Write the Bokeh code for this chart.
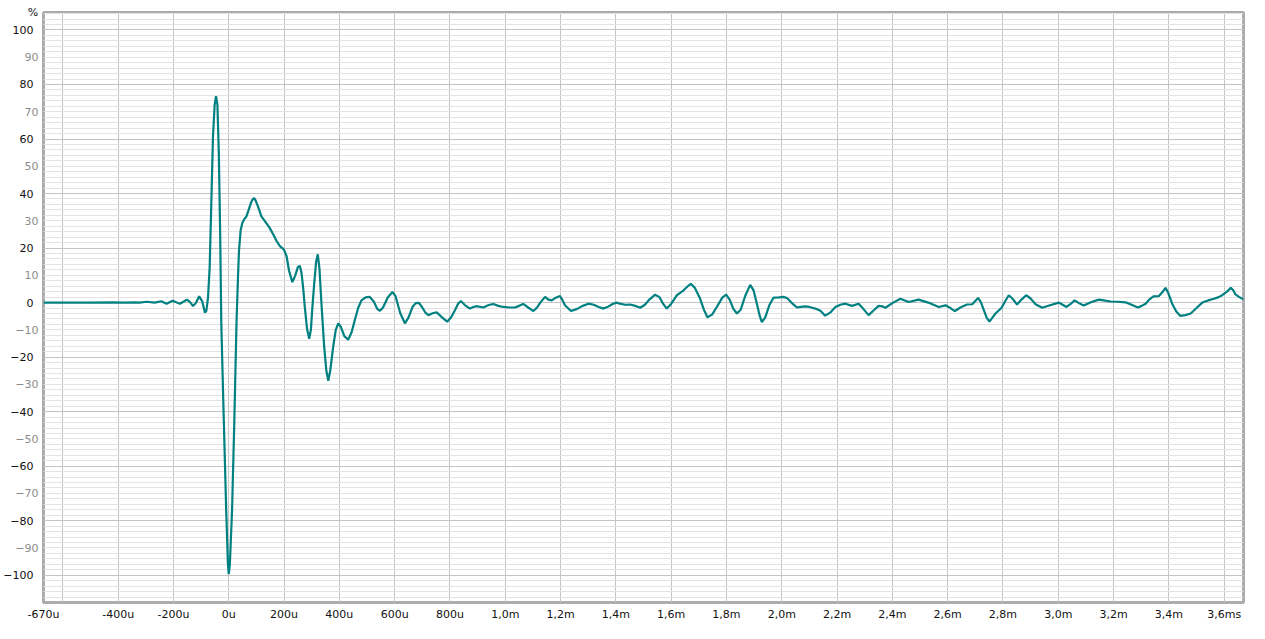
from bokeh.plotting import figure
from bokeh.models import FixedTicker, LinearAxis, Range1d
from bokeh.embed import file_html
from bokeh.resources import INLINE

# ---- data (time in microseconds, amplitude in %) ----
time_us = [
    -670, -600, -500, -420, -380, -340, -322, -297, -268, -244, -225, -203, -190, -177, -164, -151,
    -140, -129, -118, -107, -96, -86, -81, -75, -69, -63, -57, -51, -46, -41, -36, -31,
    -27, -18, -9, -3, 0, 4, 12, 20, 28, 33, 37, 43, 49, 56, 64, 72,
    80, 86, 92, 97, 106, 118, 130, 148, 161, 173, 185, 199, 209, 218, 230, 240,
    250, 257, 263, 269, 275, 283, 291, 297, 303, 309, 316, 322, 328, 336, 345, 353,
    360, 367, 378, 387, 396, 405, 418, 432, 444, 456, 468, 480, 495, 510, 525, 537,
    547, 558, 575, 592, 603, 620, 637, 650, 665, 676, 688, 700, 712, 722, 737, 752,
    770, 790, 805, 818, 830, 840, 855, 872, 885, 897, 910, 921, 940, 957, 975, 993,
    1015, 1035, 1050, 1065, 1083, 1102, 1115, 1126, 1144, 1156, 1168, 1183, 1198, 1207, 1216, 1238,
    1260, 1280, 1301, 1320, 1338, 1355, 1372, 1390, 1403, 1415, 1433, 1452, 1470, 1488, 1505, 1520,
    1542, 1558, 1570, 1584, 1600, 1621, 1645, 1660, 1671, 1685, 1705, 1718, 1731, 1748, 1765, 1785,
    1799, 1812, 1825, 1838, 1852, 1868, 1886, 1898, 1910, 1920, 1928, 1940, 1955, 1970, 1990, 2007,
    2020, 2040, 2055, 2070, 2085, 2100, 2121, 2140, 2157, 2175, 2194, 2212, 2230, 2254, 2278, 2295,
    2314, 2332, 2350, 2365, 2375, 2400, 2429, 2459, 2495, 2530, 2568, 2592, 2610, 2626, 2648, 2670,
    2689, 2700, 2710, 2720, 2731, 2741, 2751, 2762, 2773, 2795, 2808, 2821, 2836, 2851, 2868, 2884,
    2900, 2918, 2942, 2970, 3002, 3016, 3030, 3045, 3059, 3075, 3092, 3120, 3147, 3170, 3189, 3215,
    3243, 3265, 3288, 3300, 3316, 3330, 3344, 3364, 3378, 3388, 3398, 3412, 3427, 3442, 3460, 3479,
    3500, 3521, 3542, 3563, 3580, 3593, 3610, 3624, 3633, 3641, 3655, 3670,
]
amplitude_pct = [
    0.0, 0.0, 0.0, 0.1, 0.0, 0.1, 0.0, 0.3, 0.0, 0.5, -0.4, 0.7, 0.1, -0.4, 0.3, 1.1,
    0.2, -1.3, 0.0, 2.3, 0.5, -3.7, -3.0, 1.8, 12.9, 37.0, 61.0, 72.6, 75.7, 72.6, 55.0, 25.0,
    -7.6, -43.0, -77.0, -96.0, -99.6, -96.0, -76.0, -44.0, -7.6, 8.0, 19.0, 26.5, 29.2, 30.6, 31.6, 34.0,
    36.5, 37.8, 38.3, 37.5, 35.2, 31.6, 30.0, 27.4, 25.0, 22.6, 20.7, 19.5, 17.1, 11.7, 7.5, 9.8,
    13.0, 13.5, 11.0, 5.5, -1.6, -9.5, -13.3, -10.0, -1.0, 6.9, 15.0, 17.7, 12.5, -1.6, -16.0, -25.0,
    -28.7, -25.0, -16.0, -10.0, -7.6, -8.8, -12.3, -13.6, -11.0, -6.4, -2.0, 0.8, 1.9, 2.1, 0.3, -2.3,
    -3.0, -1.8, 1.9, 3.9, 2.4, -3.8, -7.6, -5.5, -1.5, -0.2, -0.1, -1.8, -3.8, -4.6, -3.9, -3.6,
    -5.3, -7.0, -5.3, -2.8, -0.3, 0.5, -1.0, -2.2, -1.6, -1.3, -1.6, -1.8, -0.9, -0.5, -1.2, -1.6,
    -1.8, -1.8, -1.2, -0.5, -1.8, -3.1, -1.8, -0.1, 2.1, 1.1, 0.8, 1.8, 2.4, 0.9, -1.0, -3.1,
    -2.3, -1.2, -0.4, -0.8, -1.6, -2.2, -1.5, -0.4, 0.0, -0.4, -0.8, -0.7, -1.2, -1.9, -0.8, 1.0,
    2.9, 2.0, -0.3, -2.2, -0.5, 2.7, 4.5, 6.0, 6.9, 5.5, 1.4, -2.5, -5.4, -4.4, -1.6, 1.8,
    2.9, 1.0, -2.3, -4.0, -2.5, 2.5, 6.5, 4.5, -0.4, -4.7, -7.2, -5.5, -1.0, 1.8, 1.9, 2.1,
    1.6, -0.5, -1.8, -1.6, -1.4, -1.6, -2.2, -3.0, -4.8, -3.7, -1.6, -0.8, -0.4, -1.2, -0.4, -2.3,
    -4.6, -2.9, -1.2, -1.4, -1.9, -0.2, 1.4, 0.2, 1.1, 0.0, -1.6, -1.0, -2.0, -3.1, -1.7, -0.7,
    -0.6, 0.6, 1.7, 0.2, -2.8, -5.5, -7.0, -5.5, -4.0, -1.9, 0.5, 2.7, 1.3, -0.7, 1.2, 2.7,
    1.5, -0.6, -1.9, -1.0, 0.0, -0.8, -1.6, -0.5, 0.8, -0.2, -1.1, 0.2, 1.1, 0.7, 0.4, 0.3,
    0.1, -0.8, -1.8, -1.3, -0.4, 1.2, 2.3, 2.4, 4.0, 5.4, 3.5, -0.4, -3.3, -4.9, -4.6, -4.0,
    -2.0, 0.0, 0.8, 1.4, 2.0, 2.7, 4.0, 5.4, 4.5, 3.0, 2.0, 1.2,
]

# ---- axes / tick definitions ----
x_tick_values = [-670, -400, -200, 0, 200, 400, 600, 800, 1000, 1200, 1400, 1600,
                 1800, 2000, 2200, 2400, 2600, 2800, 3000, 3200, 3400, 3600]
x_tick_labels = ["-670u", "-400u", "-200u", "0u", "200u", "400u", "600u", "800u", "1,0m", "1,2m",
                 "1,4m", "1,6m", "1,8m", "2,0m", "2,2m", "2,4m", "2,6m", "2,8m", "3,0m", "3,2m",
                 "3,4m", "3,6ms"]
x_grid_values = [-600, -400, -200, 0, 200, 400, 600, 800, 1000, 1200, 1400, 1600,
                 1800, 2000, 2200, 2400, 2600, 2800, 3000, 3200, 3400, 3600]
y_major_values = [-100, -80, -60, -40, -20, 0, 20, 40, 60, 80, 100]
y_odd_values = [-90, -70, -50, -30, -10, 10, 30, 50, 70, 90]
y_minor_values = list(range(-110, 107, 2))
y_unit_label = "%"
x_start, x_end = -670, 3670
y_start, y_end = -110.0, 106.4

FONT = "DejaVu Sans"
FSIZE = "11px"

p = figure(width=1249, height=623, output_backend="svg", toolbar_location=None,
           x_range=Range1d(x_start, x_end), y_range=Range1d(y_start, y_end),
           min_border_left=43, min_border_right=6, min_border_top=12, min_border_bottom=0,
           background_fill_color="white", border_fill_color="white")

p.line(time_us, amplitude_pct, line_color="#008080", line_width=2.2)


def style_axis(ax, color):
    ax.axis_line_color = None
    ax.major_tick_line_color = None
    ax.minor_tick_line_color = None
    ax.major_tick_out = 0
    ax.major_tick_in = 0
    ax.minor_tick_out = 0
    ax.minor_tick_in = 0
    ax.axis_label = None
    ax.major_label_text_font = FONT
    ax.major_label_text_font_size = FSIZE
    ax.major_label_text_color = color


# x axis
xaxis = p.xaxis[0]
xaxis.ticker = FixedTicker(ticks=x_tick_values)
xaxis.major_label_overrides = {v: l for v, l in zip(x_tick_values, x_tick_labels)}
style_axis(xaxis, "#111111")
xaxis.major_label_standoff = 5
p.xgrid.ticker = FixedTicker(ticks=x_grid_values)

# inner y axis: grey labels at the odd tens
grey_axis = p.yaxis[0]
grey_axis.ticker = FixedTicker(ticks=y_odd_values)
style_axis(grey_axis, "#8c8c8c")
grey_axis.major_label_standoff = 5

# outer y axis: black labels at multiples of 20, pulled back next to the frame
black_axis = LinearAxis(ticker=FixedTicker(ticks=y_major_values))
style_axis(black_axis, "#111111")
black_axis.major_label_standoff = -21
black_axis.axis_label = y_unit_label
black_axis.axis_label_orientation = "horizontal"
black_axis.axis_label_align = "end"
black_axis.axis_label_standoff = -38
black_axis.axis_label_text_font = FONT
black_axis.axis_label_text_font_size = FSIZE
black_axis.axis_label_text_font_style = "normal"
black_axis.axis_label_text_color = "#111111"
p.add_layout(black_axis, "left")

p.ygrid.ticker = FixedTicker(ticks=y_major_values, minor_ticks=y_minor_values)
p.xgrid.grid_line_color = "#c4c4c4"
p.ygrid.grid_line_color = "#c4c4c4"
p.ygrid.minor_grid_line_color = "#e3e3e3"

p.outline_line_color = "#acacac"
p.outline_line_width = 3

open("out.html", "w").write(file_html(p, INLINE))
